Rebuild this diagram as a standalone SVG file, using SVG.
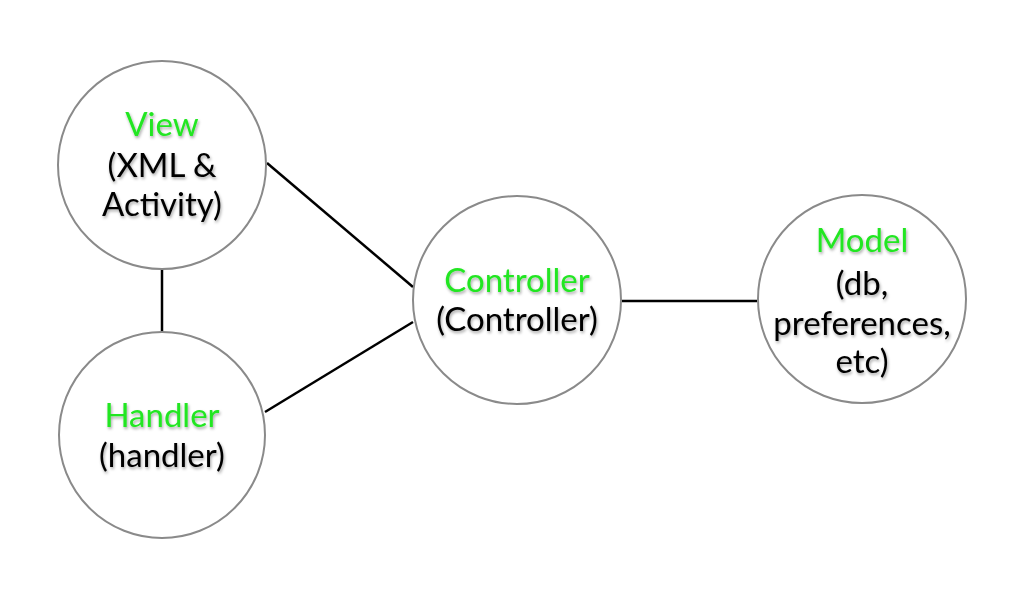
<svg xmlns="http://www.w3.org/2000/svg" width="1024" height="600" viewBox="0 0 1024 600">
<style>
.node{fill:#fff;stroke:#8a8a8a;stroke-width:2}
.edge{stroke:#000;stroke-width:2.5;fill:none}
text{font-family:Lato,"Open Sans","Liberation Sans",sans-serif;font-size:33px;text-anchor:middle;filter:url(#sh)}
.t{fill:#22e622}
.s{fill:#000}
</style>
<defs>
<filter id="sh" x="-20%" y="-30%" width="140%" height="170%">
<feDropShadow dx="1" dy="2" stdDeviation="1.5" flood-color="#000" flood-opacity="0.35"/>
</filter>
</defs>
<rect width="1024" height="600" fill="#fff"/>
<g id="connectors">
<line class="edge" x1="162" y1="268" x2="162" y2="332"/>
<line class="edge" x1="267" y1="163" x2="413" y2="287"/>
<line class="edge" x1="265" y1="412" x2="413" y2="322"/>
<line class="edge" x1="622" y1="301" x2="757" y2="301"/>
</g>
<g id="view">
<circle class="node" cx="162" cy="165" r="104"/>
<text class="t" x="162" y="136">View</text>
<text class="s" x="162" y="177">(XML &amp;</text>
<text class="s" x="162" y="216">Activity)</text>
</g>
<g id="handler">
<circle class="node" cx="162" cy="435" r="103"/>
<text class="t" x="162" y="427">Handler</text>
<text class="s" x="162" y="467">(handler)</text>
</g>
<g id="controller">
<circle class="node" cx="517" cy="300" r="104"/>
<text class="t" x="517" y="292">Controller</text>
<text class="s" x="517" y="331">(Controller)</text>
</g>
<g id="model">
<circle class="node" cx="862" cy="299" r="104"/>
<text class="t" x="862" y="252">Model</text>
<text class="s" x="862" y="295">(db,</text>
<text class="s" x="862" y="335">preferences,</text>
<text class="s" x="862" y="373">etc)</text>
</g>
</svg>
